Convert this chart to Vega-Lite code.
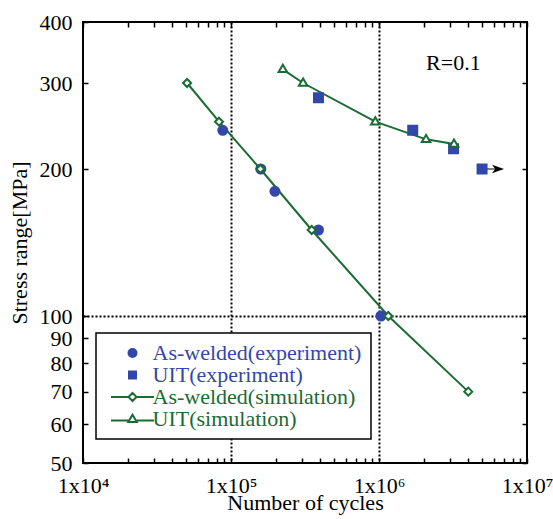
{
  "$schema": "https://vega.github.io/schema/vega-lite/v6.json",
  "width": 444,
  "height": 441,
  "autosize": {"type": "none"},
  "padding": {"left": 83, "top": 22, "right": 26, "bottom": 56},
  "background": "white",
  "datasets": {
    "pts": [
      {"series": "As-welded(experiment)", "N": 88000, "S": 240},
      {"series": "As-welded(experiment)", "N": 159000, "S": 200},
      {"series": "As-welded(experiment)", "N": 198000, "S": 180},
      {"series": "As-welded(experiment)", "N": 390000, "S": 150},
      {"series": "As-welded(experiment)", "N": 1030000, "S": 100},
      {"series": "UIT(experiment)", "N": 390000, "S": 280},
      {"series": "UIT(experiment)", "N": 1690000, "S": 240},
      {"series": "UIT(experiment)", "N": 3190000, "S": 220},
      {"series": "UIT(experiment)", "N": 4970000, "S": 200},
      {"series": "As-welded(simulation)", "N": 50500, "S": 300},
      {"series": "As-welded(simulation)", "N": 83000, "S": 250},
      {"series": "As-welded(simulation)", "N": 158000, "S": 200},
      {"series": "As-welded(simulation)", "N": 351000, "S": 150},
      {"series": "As-welded(simulation)", "N": 1156000, "S": 100},
      {"series": "As-welded(simulation)", "N": 4010000, "S": 70},
      {"series": "UIT(simulation)", "N": 224000, "S": 320},
      {"series": "UIT(simulation)", "N": 307000, "S": 300},
      {"series": "UIT(simulation)", "N": 944000, "S": 250},
      {"series": "UIT(simulation)", "N": 2080000, "S": 230},
      {"series": "UIT(simulation)", "N": 3210000, "S": 225}
    ],
    "note": [{"N": 3180000, "S": 330, "label": "R=0.1"}],
    "arrow": [{"N": 5000000, "N2": 6200000, "tip": 6370000, "S": 200}]
  },
  "layer": [
    {
      "data": {"name": "pts"},
      "transform": [{"filter": "indexof(datum.series, 'simulation') >= 0"}],
      "mark": {"type": "line", "color": "#1b6b34", "strokeWidth": 2},
      "encoding": {
        "x": {
          "field": "N", "type": "quantitative",
          "scale": {"type": "log", "domain": [10000, 10000000], "nice": false},
          "axis": {
            "orient": "bottom",
            "values": [10000, 20000, 30000, 40000, 50000, 60000, 70000, 80000, 90000, 100000, 200000, 300000, 400000, 500000, 600000, 700000, 800000, 900000, 1000000, 2000000, 3000000, 4000000, 5000000, 6000000, 7000000, 8000000, 9000000, 10000000],
            "labelExpr": "datum.value == 10000 ? '1x10⁴' : datum.value == 100000 ? '1x10⁵' : datum.value == 1000000 ? '1x10⁶' : datum.value == 10000000 ? '1x10⁷' : ''",
            "labelOverlap": false,
            "labelFlush": false,
            "tickSize": -5,
            "labelPadding": 17,
            "grid": true,
            "gridDash": [2, 2],
            "gridColor": "black",
            "gridWidth": 2,
            "gridOpacity": {"condition": {"test": "datum.value == 100000 || datum.value == 1000000", "value": 1}, "value": 0},
            "title": "Number of cycles",
            "titleY": 46,
            "titleBaseline": "alphabetic"
          }
        },
        "y": {
          "field": "S", "type": "quantitative",
          "scale": {"type": "log", "domain": [50, 400], "nice": false, "zero": false},
          "axis": {
            "orient": "left",
            "values": [50, 60, 70, 80, 90, 100, 200, 300, 400],
            "labelOverlap": false,
            "labelFlush": false,
            "tickSize": -5,
            "labelPadding": 16,
            "grid": true,
            "gridDash": [2, 2],
            "gridColor": "black",
            "gridWidth": 2,
            "gridOpacity": {"condition": {"test": "datum.value == 100", "value": 1}, "value": 0},
            "title": "Stress range[MPa]",
            "titleX": -57,
            "titleBaseline": "alphabetic"
          }
        },
        "detail": {"field": "series"}
      }
    },
    {
      "data": {"name": "arrow"},
      "mark": {"type": "rule", "color": "black", "strokeWidth": 1},
      "encoding": {
        "x": {"field": "N", "type": "quantitative", "axis": null},
        "x2": {"field": "N2"},
        "y": {"field": "S", "type": "quantitative", "axis": null}
      }
    },
    {
      "data": {"name": "pts"},
      "mark": {"type": "point", "strokeWidth": 2, "opacity": 1, "fillOpacity": 1, "strokeOpacity": 1, "size": 100},
      "encoding": {
        "x": {"field": "N", "type": "quantitative", "axis": null},
        "y": {"field": "S", "type": "quantitative", "axis": null},
        "fill": {
          "field": "series", "type": "nominal",
          "scale": {"domain": ["As-welded(experiment)", "UIT(experiment)", "As-welded(simulation)", "UIT(simulation)"], "range": ["#3347a8", "#3347a8", "white", "white"]},
          "legend": {
            "title": null,
            "orient": "none",
            "legendX": 13,
            "legendY": 311,
            "padding": 9,
            "fillColor": "white",
            "strokeColor": "black",
            "symbolSize": 100,
            "symbolOffset": 16.5,
            "rowPadding": 0,
            "symbolStrokeWidth": 2,
            "symbolType": {"expr": "datum.value == 'As-welded(experiment)' ? 'M-0.8,0A0.8,0.8,0,1,1,0.8,0A0.8,0.8,0,1,1,-0.8,0Z' : datum.value == 'UIT(experiment)' ? 'M-0.7,-0.7H0.7V0.7H-0.7Z' : datum.value == 'As-welded(simulation)' ? 'M-4.3,0H-0.8M0.8,0H4.3M-0.8,0L0,-0.8L0.8,0L0,0.8Z' : 'M-4.3,0.3H-0.85M0.85,0.3H4.3M-0.85,0.6L0,-0.85L0.85,0.6Z'"},
            "labelColor": {"expr": "indexof(datum.value, 'experiment') >= 0 ? '#3347a8' : '#1b6b34'"},
            "labelFont": "Liberation Serif",
            "labelFontSize": 22,
            "labelOffset": 9,
            "labelLimit": 400,
            "labelBaseline": "middle"
          }
        },
        "stroke": {
          "field": "series", "type": "nominal",
          "scale": {"domain": ["As-welded(experiment)", "UIT(experiment)", "As-welded(simulation)", "UIT(simulation)"], "range": ["#3347a8", "#3347a8", "#1b6b34", "#1b6b34"]}
        },
        "shape": {
          "field": "series", "type": "nominal",
          "scale": {"range": ["M-0.9,0A0.9,0.9,0,1,1,0.9,0A0.9,0.9,0,1,1,-0.9,0Z", "M-0.8,0L0,-0.8L0.8,0L0,0.8Z", "M-0.9,-0.9H0.9V0.9H-0.9Z", "M-0.85,0.55L0,-0.9L0.85,0.55Z"]},
          "legend": null
        }
      }
    },
    {
      "data": {"name": "arrow"},
      "mark": {"type": "point", "shape": "M-1,-0.7L1,0L-1,0.7L-0.45,0Z", "size": 144, "filled": true, "color": "black", "opacity": 1},
      "encoding": {
        "x": {"field": "tip", "type": "quantitative", "axis": null},
        "y": {"field": "S", "type": "quantitative", "axis": null}
      }
    },
    {
      "data": {"name": "note"},
      "mark": {"type": "text", "font": "Liberation Serif", "fontSize": 22, "baseline": "middle", "align": "center", "color": "black"},
      "encoding": {
        "x": {"field": "N", "type": "quantitative", "axis": null},
        "y": {"field": "S", "type": "quantitative", "axis": null},
        "text": {"field": "label"}
      }
    },
    {
      "data": {"name": "pts"},
      "mark": {"type": "point", "opacity": 0},
      "encoding": {
        "x": {
          "field": "N", "type": "quantitative",
          "axis": {"orient": "top", "values": [10000, 20000, 30000, 40000, 50000, 60000, 70000, 80000, 90000, 100000, 200000, 300000, 400000, 500000, 600000, 700000, 800000, 900000, 1000000, 2000000, 3000000, 4000000, 5000000, 6000000, 7000000, 8000000, 9000000, 10000000], "labels": false, "tickSize": -5, "title": null, "grid": false}
        },
        "y": {
          "field": "S", "type": "quantitative",
          "axis": {"orient": "right", "values": [50, 60, 70, 80, 90, 100, 200, 300, 400], "labels": false, "tickSize": -5, "title": null, "grid": false}
        }
      }
    }
  ],
  "resolve": {"axis": {"x": "independent", "y": "independent"}},
  "config": {
    "view": {"stroke": "black", "strokeWidth": 2},
    "legend": {"strokeWidth": 1.5},
    "axis": {
      "domain": false,
      "labelFont": "Liberation Serif",
      "titleFont": "Liberation Serif",
      "labelFontSize": 22,
      "titleFontSize": 22,
      "titleFontWeight": "normal",
      "labelColor": "black",
      "titleColor": "black",
      "tickColor": "black",
      "tickWidth": 1.5
    }
  }
}
